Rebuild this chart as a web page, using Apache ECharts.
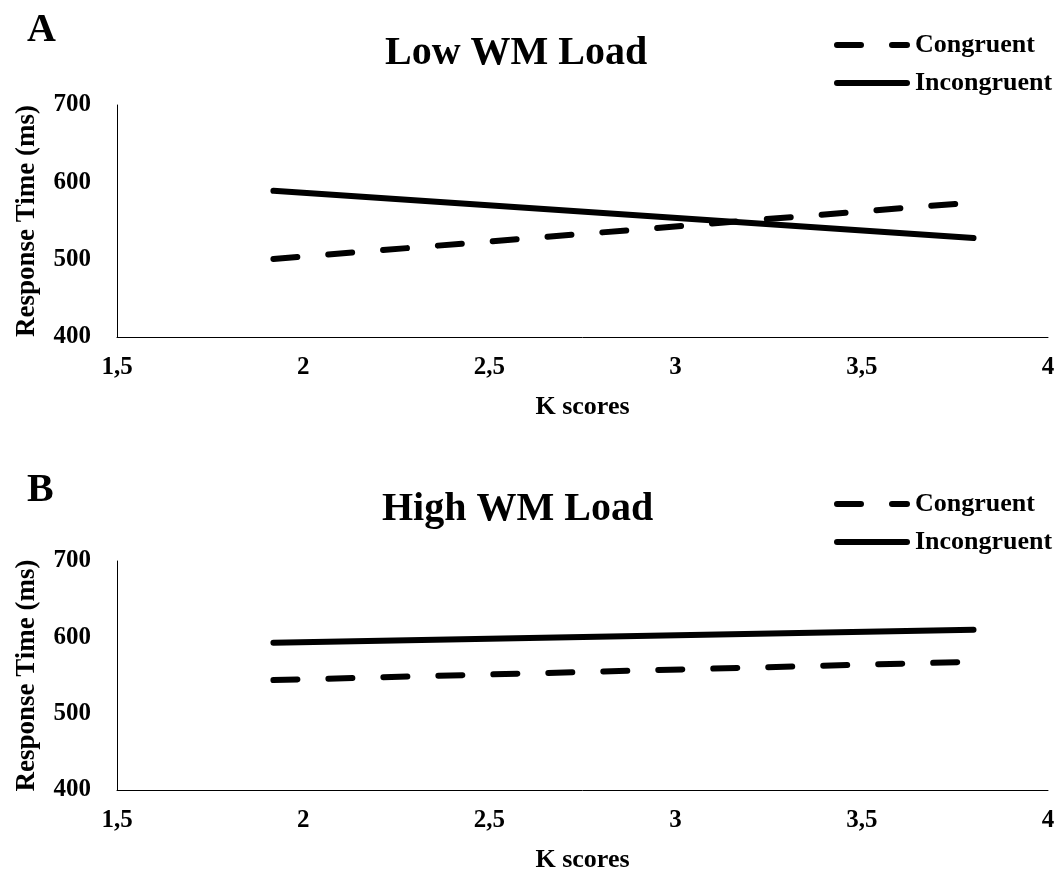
<!DOCTYPE html>
<html>
<head>
<meta charset="utf-8">
<script src="https://cdn.jsdelivr.net/npm/echarts@6/dist/echarts.min.js"></script>
<style>
  html, body { margin: 0; padding: 0; background: #fff; }
  #chart { width: 1062px; height: 874px; }
</style>
</head>
<body>
<div id="chart"></div>
<script>
// data
const kScores = [1.92, 3.8];
const lowCongruent = [501, 574];
const lowIncongruent = [589, 528];
const highCongruent = [544, 568];
const highIncongruent = [593, 610];
const xTicks = [1.5, 2, 2.5, 3, 3.5, 4];
const yTicks = [400, 500, 600, 700];

const FONT = '"Liberation Serif", "DejaVu Serif", serif';

const pairs = (vals) => kScores.map((k, i) => [k, vals[i]]);

function xAxisFor(gridIndex) {
  return {
    gridIndex: gridIndex,
    type: 'value',
    min: xTicks[0],
    max: xTicks[xTicks.length - 1],
    interval: 0.5,
    name: 'K scores',
    nameLocation: 'middle',
    nameGap: 57,
    nameTextStyle: { fontFamily: FONT, fontWeight: 'bold', fontSize: 26, color: '#000' },
    axisLine: { show: true, lineStyle: { color: '#000', width: 1 } },
    axisTick: { show: false },
    splitLine: { show: false },
    axisLabel: {
      margin: 18,
      fontFamily: FONT, fontWeight: 'bold', fontSize: 25, color: '#000',
      formatter: (v) => String(v).replace('.', ',')
    }
  };
}

function yAxisFor(gridIndex) {
  return {
    gridIndex: gridIndex,
    type: 'value',
    min: yTicks[0],
    max: yTicks[yTicks.length - 1],
    interval: 100,
    name: 'Response Time (ms)',
    nameLocation: 'middle',
    nameGap: 76,
    nameTextStyle: { fontFamily: FONT, fontWeight: 'bold', fontSize: 27, color: '#000' },
    axisLine: { show: true, lineStyle: { color: '#000', width: 1 } },
    axisTick: { show: false },
    splitLine: { show: false },
    axisLabel: {
      margin: 26,
      fontFamily: FONT, fontWeight: 'bold', fontSize: 25, color: '#000'
    }
  };
}

function lineSeries(name, idx, vals, dashed) {
  return {
    name: name,
    type: 'line',
    xAxisIndex: idx,
    yAxisIndex: idx,
    data: pairs(vals),
    symbol: 'none',
    silent: true,
    lineStyle: {
      color: '#000',
      width: 6,
      cap: 'round',
      type: dashed ? [24, 31] : 'solid'
    },
    itemStyle: { color: '#000' }
  };
}

function legendFor(top) {
  return {
    data: ['Congruent', 'Incongruent'],
    orient: 'vertical',
    left: 829,
    top: top,
    itemWidth: 70,
    itemHeight: 26,
    itemGap: 12,
    itemStyle: { opacity: 0 },
    lineStyle: { width: 6, cap: 'round' },
    textStyle: {
      fontFamily: FONT, fontWeight: 'bold', fontSize: 26, color: '#000',
      padding: [0, 0, 0, 3]
    }
  };
}

const chart = echarts.init(document.getElementById('chart'), null, { renderer: 'canvas' });

chart.setOption({
  backgroundColor: '#fff',
  animation: false,
  title: [
    { text: 'A', left: 22, top: 6, textStyle: { fontFamily: FONT, fontWeight: 'bold', fontSize: 40, color: '#000' } },
    { text: 'Low WM Load', left: 380, top: 29, textStyle: { fontFamily: FONT, fontWeight: 'bold', fontSize: 40, color: '#000' } },
    { text: 'B', left: 22, top: 466, textStyle: { fontFamily: FONT, fontWeight: 'bold', fontSize: 40, color: '#000' } },
    { text: 'High WM Load', left: 377, top: 485, textStyle: { fontFamily: FONT, fontWeight: 'bold', fontSize: 40, color: '#000' } }
  ],
  legend: [legendFor(27), legendFor(486)],
  grid: [
    { left: 117, top: 105, width: 931, height: 232 },
    { left: 117, top: 561, width: 931, height: 233 }
  ],
  xAxis: [xAxisFor(0), xAxisFor(1)],
  yAxis: [yAxisFor(0), yAxisFor(1)],
  series: [
    lineSeries('Congruent', 0, lowCongruent, true),
    lineSeries('Incongruent', 0, lowIncongruent, false),
    lineSeries('Congruent', 1, highCongruent, true),
    lineSeries('Incongruent', 1, highIncongruent, false)
  ]
});

window.addEventListener('resize', () => chart.resize());
</script>
</body>
</html>
